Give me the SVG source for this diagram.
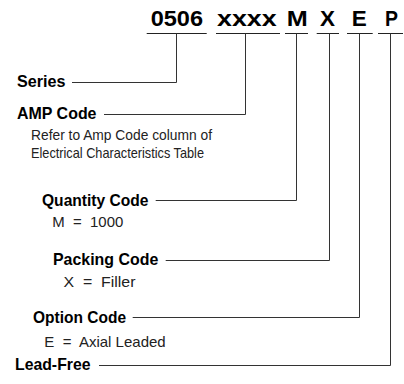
<svg xmlns="http://www.w3.org/2000/svg" width="404" height="384" viewBox="0 0 404 384">
<style>
.t{font-family:"Liberation Sans",Arial,sans-serif;font-weight:bold;font-size:22.5px;fill:#000}
.b{font-family:"Liberation Sans",Arial,sans-serif;font-weight:bold;font-size:16.5px;fill:#000}
.r{font-family:"Liberation Sans",Arial,sans-serif;font-size:15px;fill:#222}
.ln{stroke:#333;stroke-width:1;fill:none}
.ul{stroke:#222;stroke-width:1.2;fill:none}
</style>
<rect width="404" height="384" fill="#fff"/>
<g id="code">
<text class="t" x="150.7" y="26" textLength="52.3" lengthAdjust="spacingAndGlyphs">0506</text>
<text class="t" x="217" y="26" textLength="59.7" lengthAdjust="spacingAndGlyphs">xxxx</text>
<text class="t" x="286.7" y="26" textLength="21" lengthAdjust="spacingAndGlyphs">M</text>
<text class="t" x="320" y="26" textLength="15" lengthAdjust="spacingAndGlyphs">X</text>
<text class="t" x="351.7" y="26" textLength="15" lengthAdjust="spacingAndGlyphs">E</text>
<text class="t" x="385" y="26" textLength="13" lengthAdjust="spacingAndGlyphs">P</text>
<path class="ul" d="M146.7 33.5H206.7M216 33.5H280M285 33.5H308M316.7 33.5H339M347 33.5H372.7M378 33.5H403"/>
</g>
<g id="series">
<text class="b" x="17" y="86.5" textLength="48.5" lengthAdjust="spacingAndGlyphs">Series</text>
</g>
<g id="amp-code">
<text class="b" x="17" y="119" textLength="79.5" lengthAdjust="spacingAndGlyphs">AMP Code</text>
<text class="r" x="31" y="140" textLength="181" lengthAdjust="spacingAndGlyphs">Refer to Amp Code column of</text>
<text class="r" x="31" y="158" textLength="173" lengthAdjust="spacingAndGlyphs">Electrical Characteristics Table</text>
</g>
<g id="quantity-code">
<text class="b" x="42" y="206" textLength="106.5" lengthAdjust="spacingAndGlyphs">Quantity Code</text>
<text class="r" x="52.3" y="227" xml:space="preserve" textLength="71" lengthAdjust="spacingAndGlyphs">M  =  1000</text>
</g>
<g id="packing-code">
<text class="b" x="53" y="265" textLength="105.3" lengthAdjust="spacingAndGlyphs">Packing Code</text>
<text class="r" x="63.5" y="286.5" xml:space="preserve" textLength="72" lengthAdjust="spacingAndGlyphs">X  =  Filler</text>
</g>
<g id="option-code">
<text class="b" x="33" y="323.3" textLength="93" lengthAdjust="spacingAndGlyphs">Option Code</text>
<text class="r" x="44.3" y="347" xml:space="preserve" textLength="121.4" lengthAdjust="spacingAndGlyphs">E  =  Axial Leaded</text>
</g>
<g id="lead-free">
<text class="b" x="15" y="370" textLength="75.5" lengthAdjust="spacingAndGlyphs">Lead-Free</text>
</g>
<g id="connectors">
<path class="ln" d="M72 82.5H176.5V33.5"/>
<path class="ln" d="M104 114.5H245.5V33.5"/>
<path class="ln" d="M155.7 200.5H296.5V33.5"/>
<path class="ln" d="M165.7 260.5H329.5V33.5"/>
<path class="ln" d="M132.7 317.5H359.5V33.5"/>
<path class="ln" d="M99 365.5H390.5V33.5"/>
</g>
</svg>
